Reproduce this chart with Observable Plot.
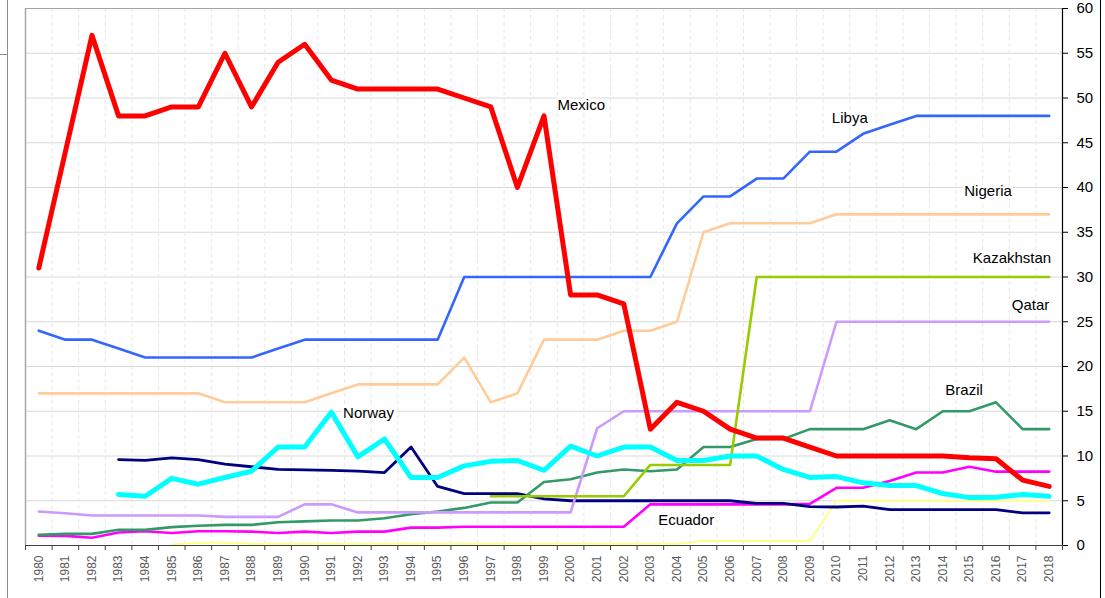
<!DOCTYPE html>
<html><head><meta charset="utf-8">
<script src="https://cdn.jsdelivr.net/npm/d3@7"></script>
<script src="https://cdn.jsdelivr.net/npm/@observablehq/plot@0.6"></script>
<style>
body{margin:0;background:#fff;width:1105px;height:598px;overflow:hidden;position:relative;font-family:"Liberation Sans",Arial,sans-serif}
#chart{position:absolute;left:0;top:0}
.edgeL{position:absolute;left:7px;top:0;width:1px;height:598px;background:#8c8c8c}
.edgeT{position:absolute;left:0;top:54px;width:7px;height:1px;background:#8c8c8c}
.edgeR{position:absolute;left:1100px;top:0;width:1px;height:598px;background:#000}
</style></head><body>
<div id="chart"></div>
<div class="edgeL"></div><div class="edgeT"></div><div class="edgeR"></div>
<script>
const years = [1980,1981,1982,1983,1984,1985,1986,1987,1988,1989,1990,1991,1992,1993,1994,1995,1996,1997,1998,1999,2000,2001,2002,2003,2004,2005,2006,2007,2008,2009,2010,2011,2012,2013,2014,2015,2016,2017,2018];
const yTicks = [0,5,10,15,20,25,30,35,40,45,50,55,60];

const mexico = [31,44,57,48,48,49,49,55,49,54, 56,52,51,51,51,51,50,49,40,48, 28,28,27,13,16,15,13,12,12,11, 10,10,10,10,10,9.8,9.7,7.3,6.6];
const libya = [24,23,23,22,21,21,21,21,21,22, 23,23,23,23,23,23,30,30,30,30, 30,30,30,30,36,39,39,41,41,44, 44,46,47,48,48,48,48,48,48];
const nigeria = [17,17,17,17,17,17,17,16,16,16, 16,17,18,18,18,18,21,16,17,23, 23,23,24,24,25,35,36,36,36,36, 37,37,37,37,37,37,37,37,37];
const kazakhstan = [null,null,null,null,null,null,null,null,null,null, null,null,null,null,null,null,null,5.5,5.5,5.5, 5.5,5.5,5.5,9,9,9,9,30,30,30, 30,30,30,30,30,30,30,30,30];
const qatar = [3.8,3.6,3.35,3.35,3.35,3.35,3.35,3.2,3.2,3.2, 4.6,4.6,3.7,3.7,3.7,3.7,3.7,3.7,3.7,3.7, 3.7,13.1,15,15,15,15,15,15,15,15, 25,25,25,25,25,25,25,25,25];
const norway = [null,null,null,5.7,5.5,7.5,6.85,7.6,8.3,11, 11,14.9,9.9,11.9,7.6,7.6,8.9,9.4,9.5,8.4, 11.1,10,11,11,9.5,9.5,10,10,8.5,7.6, 7.7,7.0,6.7,6.7,5.8,5.35,5.4,5.7,5.5];
const navy = [null,null,null,9.6,9.5,9.8,9.6,9.1,8.8,8.5, 8.45,8.4,8.3,8.15,11,6.6,5.8,5.8,5.8,5.2, 5.0,5.0,5.0,5.0,5.0,5.0,5.0,4.7,4.7,4.35, 4.3,4.4,4.0,4.0,4.0,4.0,4.0,3.65,3.65];
const brazil = [1.2,1.3,1.3,1.75,1.75,2.05,2.2,2.3,2.3,2.6, 2.7,2.8,2.8,3.05,3.5,3.8,4.2,4.8,4.8,7.1, 7.4,8.15,8.5,8.3,8.5,11,11,11.9,11.9,13, 13,13,14,13,15,15,16,13,13];
const magenta = [1.1,1.08,0.86,1.45,1.6,1.4,1.6,1.6,1.55,1.4, 1.55,1.4,1.55,1.55,2.0,2.0,2.1,2.1,2.1,2.1, 2.1,2.1,2.1,4.6,4.6,4.6,4.6,4.6,4.6,4.65, 6.45,6.45,7.2,8.15,8.15,8.8,8.25,8.25,8.25];
const yellow = [null,null,null,null,null,0.1,0.3,0.3,0.2,0.2, 0.2,0.2,0.2,0.2,0.2,0.2,0.2,0.2,0.2,0.2, 0.2,0.2,0.2,0.2,0.2,0.5,0.5,0.5,0.5,0.5, 5,5,5,5,5,5,5,5,5];

const labelNames = ["Mexico","Libya","Nigeria","Kazakhstan","Qatar","Brazil","Norway","Ecuador"];
const labelYears = [2000.4,2010.5,2015.7,2016.6,2017.3,2014.8,1992.4,2004.35];
const labelValues = [49.2,47.8,39.6,32.1,26.8,17.3,14.75,2.8];

const series = [
  {values: yellow, color: "#ffff88", width: 2},
  {values: magenta, color: "#ff00ff", width: 2.6},
  {values: navy, color: "#000080", width: 2.8},
  {values: brazil, color: "#339966", width: 2.6},
  {values: qatar, color: "#cc99ff", width: 2.6},
  {values: kazakhstan, color: "#99cc00", width: 2.6},
  {values: nigeria, color: "#ffcc99", width: 2.6},
  {values: libya, color: "#3366ff", width: 2.6},
  {values: norway, color: "#00ffff", width: 5},
  {values: mexico, color: "#ff0000", width: 5}
];

const boundaries = years.slice(0, -1).map(y => y + 0.5);
const allBounds = [years[0] - 0.5, ...boundaries, years[years.length - 1] + 0.5];
const labels = labelNames.map((n, i) => ({name: n, year: labelYears[i], value: labelValues[i]}));

const lineMarks = series.map(s => {
  const rows = years.map((yr, i) => ({year: yr, value: s.values[i]})).filter(d => d.value != null);
  return Plot.line(rows, {x: "year", y: "value", stroke: s.color, strokeWidth: s.width, strokeLinejoin: "round", strokeLinecap: "round"});
});

const chart = Plot.plot({
  width: 1105, height: 598,
  marginLeft: 25, marginRight: 43, marginTop: 8, marginBottom: 53,
  style: {fontFamily: "Liberation Sans, Arial, sans-serif", background: "transparent", overflow: "visible"},
  x: {type: "linear", domain: [years[0] - 0.5, years[years.length - 1] + 0.5]},
  y: {domain: [0, 60]},
  marks: [
    Plot.gridY(yTicks, {stroke: "#d9d9d9", strokeOpacity: 1}),
    Plot.ruleX(boundaries, {stroke: "#e8e8e8", strokeOpacity: 1, strokeDasharray: "4,3"}),
    Plot.ruleX([years[0] - 0.5], {stroke: "#a6a6a6", strokeWidth: 1.5}),
    Plot.ruleY([60], {stroke: "#a6a6a6"}),
    ...lineMarks,
    Plot.ruleY([0], {stroke: "#404040", strokeWidth: 1.2}),
    Plot.ruleX([years[years.length - 1] + 0.5], {stroke: "#000", strokeWidth: 1.2}),
    Plot.axisX({ticks: allBounds, tickSize: 5, tickFormat: () => "", label: null, stroke: "#404040"}),
    Plot.axisX({ticks: years, tickSize: 0, tickPadding: 10, tickRotate: -90, tickFormat: d => String(d), label: null, fontSize: 12, fill: "#595959"}),
    Plot.axisY({ticks: yTicks, anchor: "right", tickSize: 5, tickPadding: 9, label: null, fontSize: 15, fill: "#000", stroke: "#000"}),
    Plot.text(labels, {x: "year", y: "value", text: "name", fontSize: 15, fill: "#000", stroke: "white", strokeWidth: 5, paintOrder: "stroke"})
  ]
});
document.getElementById("chart").appendChild(chart);
</script>
</body></html>
